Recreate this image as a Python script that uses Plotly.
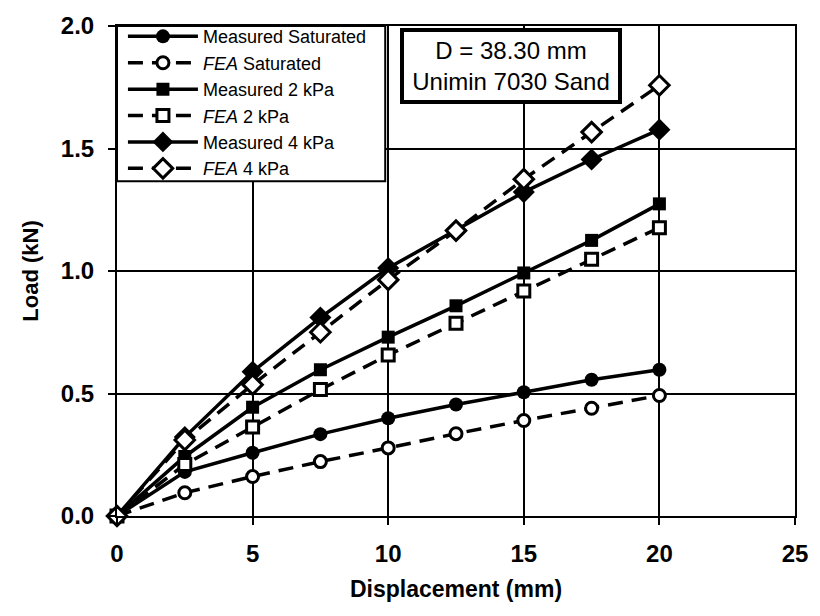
import plotly.graph_objects as go

# Displacement steps (mm)
displacement = [0, 2.5, 5, 7.5, 10, 12.5, 15, 17.5, 20]

# Load (kN) for each test condition
measured_sat = [0, 0.18, 0.258, 0.334, 0.399, 0.455, 0.505, 0.556, 0.597]
fea_sat = [0, 0.095, 0.161, 0.222, 0.278, 0.336, 0.390, 0.440, 0.492]
measured_2kpa = [0, 0.243, 0.444, 0.597, 0.730, 0.858, 0.992, 1.125, 1.274]
fea_2kpa = [0, 0.210, 0.363, 0.516, 0.657, 0.787, 0.918, 1.048, 1.177]
measured_4kpa = [0, 0.322, 0.589, 0.810, 1.012, 1.165, 1.322, 1.455, 1.577]
fea_4kpa = [0, 0.310, 0.536, 0.750, 0.964, 1.165, 1.375, 1.567, 1.758]

series_names = [
    "Measured Saturated",
    "<i>FEA</i> Saturated",
    "Measured 2 kPa",
    "<i>FEA</i> 2 kPa",
    "Measured 4 kPa",
    "<i>FEA</i> 4 kPa",
]
series_values = [measured_sat, fea_sat, measured_2kpa, fea_2kpa, measured_4kpa, fea_4kpa]

x_ticks = [0, 5, 10, 15, 20, 25]
y_ticks = [0.0, 0.5, 1.0, 1.5, 2.0]
y_tick_labels = ["0.0", "0.5", "1.0", "1.5", "2.0"]

FONT = "Arial, 'Liberation Sans', sans-serif"
DASH = "15px,9px"

styles = [
    dict(symbol="circle", size=14, filled=True, dash="solid"),
    dict(symbol="circle", size=12, filled=False, dash=DASH),
    dict(symbol="square", size=13, filled=True, dash="solid"),
    dict(symbol="square", size=12, filled=False, dash=DASH),
    dict(symbol="diamond", size=17, filled=True, dash="solid"),
    dict(symbol="diamond", size=15, filled=False, dash=DASH),
]

fig = go.Figure()
for name, vals, st in zip(series_names, series_values, styles):
    fig.add_trace(go.Scatter(
        x=displacement,
        y=vals,
        name=name,
        mode="lines+markers",
        line=dict(color="black", width=3.5, dash=st["dash"]),
        marker=dict(
            symbol=st["symbol"],
            size=st["size"],
            color="black" if st["filled"] else "white",
            line=dict(color="black", width=0 if st["filled"] else 3),
        ),
        cliponaxis=False,
    ))

# Legend frame (white box with black border); the legend itself sits on top of it
fig.add_shape(
    type="rect", xref="paper", yref="paper",
    x0=0, x1=0.3956, y0=0.683, y1=1.0,
    line=dict(color="black", width=2),
    fillcolor="white",
    layer="above",
)

fig.add_annotation(
    text="D = 38.30 mm<br>Unimin 7030 Sand",
    xref="paper", yref="paper",
    x=0.581, y=0.918,
    xanchor="center", yanchor="middle",
    showarrow=False,
    font=dict(family=FONT, size=24, color="black"),
    align="center",
    bgcolor="white",
    bordercolor="black",
    borderwidth=4,
    borderpad=3,
    width=208,
    height=62,
)

axis_common = dict(
    showline=True,
    linecolor="black",
    linewidth=2,
    mirror=True,
    showgrid=True,
    gridcolor="black",
    gridwidth=1.5,
    zeroline=False,
    ticks="outside",
    ticklen=7,
    tickwidth=2,
    tickcolor="black",
    tickfont=dict(family=FONT, size=24, color="black", weight="bold"),
)

fig.update_xaxes(
    range=[0, 25],
    tickvals=x_ticks,
    ticklabelstandoff=8,
    title=dict(text="Displacement (mm)", font=dict(family=FONT, size=23, color="black", weight="bold"), standoff=15),
    **axis_common,
)
fig.update_yaxes(
    range=[0, 2.0],
    tickvals=y_ticks,
    ticktext=y_tick_labels,
    ticklabelstandoff=9,
    title=dict(text="Load (kN)", font=dict(family=FONT, size=22, color="black", weight="bold"), standoff=16),
    **axis_common,
)

fig.update_layout(
    width=820,
    height=616,
    margin=dict(l=117, r=18, t=21, b=100),
    paper_bgcolor="white",
    plot_bgcolor="white",
    font=dict(family=FONT, color="black"),
    showlegend=True,
    legend=dict(
        x=6 / 685, y=1.016, xanchor="left", yanchor="top",
        bgcolor="rgba(0,0,0,0)",
        borderwidth=0,
        font=dict(family=FONT, size=18, color="black"),
        itemwidth=70,
        tracegroupgap=0,
    ),
)

fig.write_html("out.html", config={"displayModeBar": False})
